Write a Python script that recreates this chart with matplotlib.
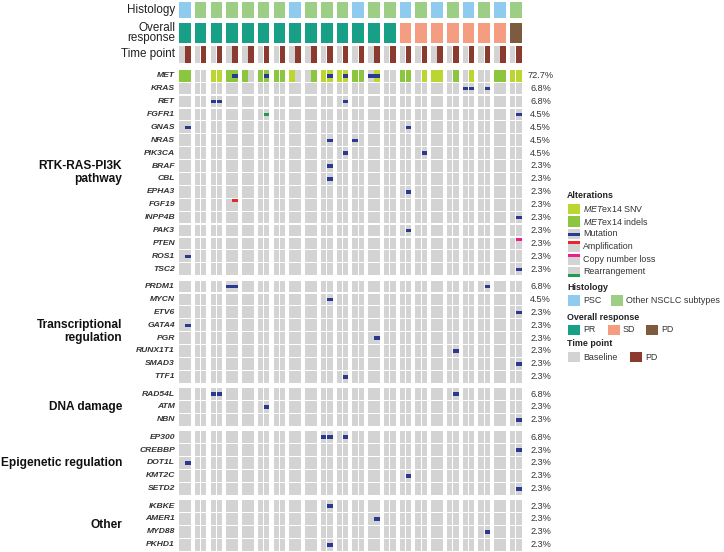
import matplotlib.pyplot as plt
from matplotlib.patches import Rectangle

plt.rcParams['font.family'] = ['Liberation Sans', 'DejaVu Sans']
plt.rcParams['mathtext.fontset'] = 'custom'
plt.rcParams['mathtext.it'] = 'Liberation Sans:italic'
plt.rcParams['mathtext.rm'] = 'Liberation Sans'

# one entry per patient, each patient sampled at baseline and at PD
histology = ['PSC', 'Other', 'Other', 'Other', 'Other', 'Other', 'Other', 'PSC',
             'Other', 'Other', 'Other', 'PSC', 'Other', 'Other', 'PSC', 'Other',
             'PSC', 'Other', 'PSC', 'Other', 'PSC', 'Other']
response = ['PR', 'PR', 'PR', 'PR', 'PR', 'PR', 'PR', 'PR', 'PR', 'PR', 'PR',
            'PR', 'PR', 'PR', 'SD', 'SD', 'SD', 'SD', 'SD', 'SD', 'SD', 'PD']
time_points = ['Baseline', 'PD']

# MET exon 14 status per patient: (baseline, PD)
met_ex14 = [('indel', 'indel'), (None, None), ('snv', 'snv'), ('indel', 'indel'),
            ('indel', None), ('indel', 'indel'), ('indel', 'indel'), ('snv', None),
            (None, 'indel'), ('snv', 'snv'), ('snv', 'snv'), ('indel', 'indel'),
            (None, 'snv'), (None, None), ('indel', 'indel'), (None, 'snv'),
            ('snv', 'snv'), (None, 'indel'), (None, 'snv'), (None, None),
            ('indel', 'indel'), ('snv', 'snv')]

group_names = ['RTK-RAS-PI3K\npathway', 'Transcriptional\nregulation', 'DNA damage',
               'Epigenetic regulation', 'Other']
group_genes = [
    ['MET', 'KRAS', 'RET', 'FGFR1', 'GNAS', 'NRAS', 'PIK3CA', 'BRAF', 'CBL', 'EPHA3',
     'FGF19', 'INPP4B', 'PAK3', 'PTEN', 'ROS1', 'TSC2'],
    ['PRDM1', 'MYCN', 'ETV6', 'GATA4', 'PGR', 'RUNX1T1', 'SMAD3', 'TTF1'],
    ['RAD54L', 'ATM', 'NBN'],
    ['EP300', 'CREBBP', 'DOT1L', 'KMT2C', 'SETD2'],
    ['IKBKE', 'AMER1', 'MYD88', 'PKHD1'],
]
group_freqs = [
    ['72.7%', '6.8%', '6.8%', '4.5%', '4.5%', '4.5%', '4.5%', '2.3%', '2.3%', '2.3%',
     '2.3%', '2.3%', '2.3%', '2.3%', '2.3%', '2.3%'],
    ['6.8%', '4.5%', '2.3%', '2.3%', '2.3%', '2.3%', '2.3%', '2.3%'],
    ['6.8%', '2.3%', '2.3%'],
    ['6.8%', '2.3%', '2.3%', '2.3%', '2.3%'],
    ['2.3%', '2.3%', '2.3%', '2.3%'],
]

# (gene, patient, time point index, alteration)
alterations = [
    ('MET', 3, 1, 'mut'), ('MET', 5, 1, 'mut'), ('MET', 9, 1, 'mut'),
    ('MET', 10, 1, 'mut'), ('MET', 12, 0, 'mut'), ('MET', 12, 1, 'mut'),
    ('KRAS', 18, 0, 'mut'), ('KRAS', 18, 1, 'mut'), ('KRAS', 19, 1, 'mut'),
    ('RET', 2, 0, 'mut'), ('RET', 2, 1, 'mut'), ('RET', 10, 1, 'mut'),
    ('FGFR1', 5, 1, 'rearr'), ('FGFR1', 21, 1, 'mut'),
    ('GNAS', 0, 1, 'mut'), ('GNAS', 14, 1, 'mut'),
    ('NRAS', 9, 1, 'mut'), ('NRAS', 11, 0, 'mut'),
    ('PIK3CA', 10, 1, 'mut'), ('PIK3CA', 15, 1, 'mut'),
    ('BRAF', 9, 1, 'mut'), ('CBL', 9, 1, 'mut'), ('EPHA3', 14, 1, 'mut'),
    ('FGF19', 3, 1, 'amp'), ('INPP4B', 21, 1, 'mut'), ('PAK3', 14, 1, 'mut'),
    ('PTEN', 21, 1, 'loss'), ('ROS1', 0, 1, 'mut'), ('TSC2', 21, 1, 'mut'),
    ('PRDM1', 3, 0, 'mut'), ('PRDM1', 3, 1, 'mut'), ('PRDM1', 19, 1, 'mut'),
    ('MYCN', 9, 1, 'mut'), ('ETV6', 21, 1, 'mut'), ('GATA4', 0, 1, 'mut'),
    ('PGR', 12, 1, 'mut'), ('RUNX1T1', 17, 1, 'mut'), ('SMAD3', 21, 1, 'mut'),
    ('TTF1', 10, 1, 'mut'),
    ('RAD54L', 2, 0, 'mut'), ('RAD54L', 2, 1, 'mut'), ('RAD54L', 17, 1, 'mut'),
    ('ATM', 5, 1, 'mut'), ('NBN', 21, 1, 'mut'),
    ('EP300', 9, 0, 'mut'), ('EP300', 9, 1, 'mut'), ('EP300', 10, 1, 'mut'),
    ('CREBBP', 21, 1, 'mut'), ('DOT1L', 0, 1, 'mut'), ('KMT2C', 14, 1, 'mut'),
    ('SETD2', 21, 1, 'mut'),
    ('IKBKE', 9, 1, 'mut'), ('AMER1', 12, 1, 'mut'), ('MYD88', 19, 1, 'mut'),
    ('PKHD1', 9, 1, 'mut'),
]

# colours
GREY = '#d3d3d3'
hist_colors = {'PSC': '#8ecbee', 'Other': '#9ccf85'}
resp_colors = {'PR': '#17a086', 'SD': '#f59d80', 'PD': '#7d5b3e'}
time_colors = {'Baseline': '#d3d3d3', 'PD': '#8c3a2e'}
met_colors = {'snv': '#bbd531', 'indel': '#8cc63f'}
alt_colors = {'mut': '#2b3990', 'amp': '#e8262a', 'loss': '#ec1e8c', 'rearr': '#1e9e4a'}

fig = plt.figure(figsize=(7.24, 5.52), dpi=100)

# main grid: x in patient units, y in gene-row units (MET row at 0)
n_pat = len(histology)
pitch_x, pitch_y, top_px = 15.76, 12.9, 75.7
ax = fig.add_axes([179 / 724, 0, n_pat * pitch_x / 724, 1])
ax.set_xlim(0, n_pat)
ax.set_ylim((552 - top_px) / pitch_y, -top_px / pitch_y)
ax.axis('off')

sub_off = [0.0, 0.39]
sub_w = 0.35
box_w = 0.74
cell_h = 0.9
group_gap = 0.34

row_y = {}
idx = 0
for g, genes in enumerate(group_genes):
    for gene in genes:
        row_y[gene] = idx + g * group_gap
        idx += 1


def cell(x, y, w, h, c):
    ax.add_patch(Rectangle((x, y), w, h, facecolor=c, edgecolor='none', lw=0,
                           antialiased=False))


# annotation tracks
for p in range(n_pat):
    cell(p, -5.71, box_w, 1.24, hist_colors[histology[p]])
    cell(p, -4.09, box_w, 1.56, resp_colors[response[p]])
    for s, tp in enumerate(time_points):
        cell(p + sub_off[s], -2.30, sub_w, 1.32, time_colors[tp])

# background cells
for gene, y in row_y.items():
    for p in range(n_pat):
        for s in range(len(time_points)):
            c = GREY
            if gene == 'MET' and met_ex14[p][s] is not None:
                c = met_colors[met_ex14[p][s]]
            cell(p + sub_off[s], y - cell_h / 2, sub_w, cell_h, c)

# alteration marks
for gene, p, s, kind in alterations:
    y = row_y[gene]
    x0 = p + sub_off[s]
    if kind in ('amp', 'loss'):
        cell(x0, y - cell_h / 2, sub_w, 0.25, alt_colors[kind])
    else:
        cell(x0, y - 0.13, sub_w, 0.27, alt_colors[kind])

# row labels and frequencies
lab_x = -0.25
pct_x = (540.5 - 179) / pitch_x
grp_x = (122 - 179) / pitch_x
for g, genes in enumerate(group_genes):
    for gene, freq in zip(genes, group_freqs[g]):
        y = row_y[gene]
        ax.text(lab_x, y, gene, ha='right', va='center', fontsize=6.1,
                fontweight='bold', fontstyle='italic', color='#333333')
        ax.text(pct_x, y, freq, ha='center', va='center', fontsize=6.6, color='#333333')
    ymid = (row_y[genes[0]] + row_y[genes[-1]]) / 2
    ax.text(grp_x, ymid, group_names[g], ha='right', va='center', ma='right',
            fontsize=8.6, fontweight='bold', color='#111111', linespacing=1.05)

ax.text(lab_x, -5.09, 'Histology', ha='right', va='center', fontsize=8.4, color='#222222')
ax.text(lab_x, -3.31, 'Overall\nresponse', ha='right', va='center', ma='right',
        fontsize=8.4, color='#222222', linespacing=0.85)
ax.text(lab_x, -1.66, 'Time point', ha='right', va='center', fontsize=8.4, color='#222222')

# legend drawn on a pixel overlay
lax = fig.add_axes([0, 0, 1, 1])
lax.set_xlim(0, 724)
lax.set_ylim(552, 0)
lax.axis('off')
lax.patch.set_alpha(0)

sw_w, sw_h = 12, 10.5


def header(text, y):
    lax.text(567, y, text, ha='left', va='center', fontsize=6.4, fontweight='bold',
             color='#222222')


def swatch(x, y, label, base, band=None, where='mid'):
    lax.add_patch(Rectangle((x, y - sw_h / 2), sw_w, sw_h, color=base, lw=0))
    if band is not None:
        if where == 'top':
            by = y - sw_h / 2
        elif where == 'bottom':
            by = y + sw_h / 2 - 3
        else:
            by = y - 1.5
        lax.add_patch(Rectangle((x, by), sw_w, 3, color=band, lw=0))
    lax.text(x + 15, y, label, ha='left', va='center', fontsize=6.4, color='#333333')


header('Alterations', 196)
swatch(568, 209, r'$\mathit{MET}$ex14 SNV', met_colors['snv'])
swatch(568, 221.5, r'$\mathit{MET}$ex14 indels', met_colors['indel'])
swatch(568, 234, 'Mutation', GREY, alt_colors['mut'], 'mid')
swatch(568, 246.5, 'Amplification', GREY, alt_colors['amp'], 'top')
swatch(568, 259.5, 'Copy number loss', GREY, alt_colors['loss'], 'top')
swatch(568, 272, 'Rearrangement', GREY, alt_colors['rearr'], 'bottom')

header('Histology', 287.5)
swatch(568, 300.5, 'PSC', hist_colors['PSC'])
swatch(611, 300.5, 'Other NSCLC subtypes', hist_colors['Other'])

header('Overall response', 317)
swatch(568, 330, 'PR', resp_colors['PR'])
swatch(608, 330, 'SD', resp_colors['SD'])
swatch(646, 330, 'PD', resp_colors['PD'])

header('Time point', 344)
swatch(568, 357, 'Baseline', time_colors['Baseline'])
swatch(630, 357, 'PD', time_colors['PD'])

fig.savefig('out.png', dpi=100)
